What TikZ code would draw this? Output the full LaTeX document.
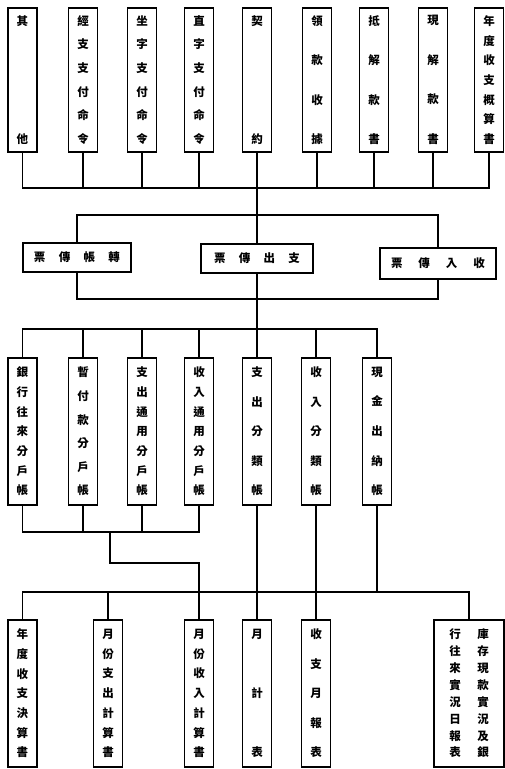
\documentclass[tikz,border=0pt]{standalone}
\usepackage{fontspec}
\newfontfamily\cjk{Noto Sans CJK TC}
\newcommand\V{\par\vfill}
\newcommand\vs[1]{\parbox[c][128pt][s]{14pt}{\centering #1}}
\tikzset{
  vbox/.style={draw, line width=1.3pt, minimum width=29pt, minimum height=144pt, inner sep=0pt, font=\cjk\bfseries\fontsize{11.5}{12}\selectfont},
  hbox/.style={draw, line width=1.3pt, minimum height=29pt, inner sep=0pt, font=\cjk\bfseries\fontsize{11.5}{12}\selectfont},
  ln/.style={line width=1.1pt}
}
\begin{document}
\begin{tikzpicture}[x=1pt,y=-1pt]
\useasboundingbox[fill=white] (0,0) rectangle (505,769);
% top row
\node[vbox] (t1) at (22.5,80) {\vs{其\V 他}};
\node[vbox] (t2) at (83,80) {\vs{經\V 支\V 支\V 付\V 命\V 令}};
\node[vbox] (t3) at (142,80) {\vs{坐\V 字\V 支\V 付\V 命\V 令}};
\node[vbox] (t4) at (199,80) {\vs{直\V 字\V 支\V 付\V 命\V 令}};
\node[vbox] (t5) at (257,80) {\vs{契\V 約}};
\node[vbox] (t6) at (317,80) {\vs{領\V 款\V 收\V 據}};
\node[vbox] (t7) at (374,80) {\vs{抵\V 解\V 款\V 書}};
\node[vbox] (t8) at (433,80) {\vs{現\V 解\V 款\V 書}};
\node[vbox] (t9) at (489,80) {\vs{年\V 度\V 收\V 支\V 概\V 算\V 書}};
% middle row
\node[hbox, minimum width=108pt] (mA) at (77,257.5) {\makebox[86pt][s]{票\hfill 傳\hfill 帳\hfill 轉}};
\node[hbox, minimum width=112pt] (mB) at (257,258.5) {\makebox[86pt][s]{票\hfill 傳\hfill 出\hfill 支}};
\node[hbox, minimum width=116pt, minimum height=31pt] (mC) at (438,263.5) {\makebox[94pt][s]{票\hfill 傳\hfill 入\hfill 收}};
% third row
\node[vbox, minimum height=147pt] (c1) at (22.5,431.5) {\vs{銀\V 行\V 往\V 來\V 分\V 戶\V 帳}};
\node[vbox, minimum height=147pt] (c2) at (83,431.5) {\vs{暫\V 付\V 款\V 分\V 戶\V 帳}};
\node[vbox, minimum height=147pt] (c3) at (142,431.5) {\vs{支\V 出\V 通\V 用\V 分\V 戶\V 帳}};
\node[vbox, minimum height=147pt] (c4) at (199,431.5) {\vs{收\V 入\V 通\V 用\V 分\V 戶\V 帳}};
\node[vbox, minimum height=147pt] (c5) at (257,431.5) {\vs{支\V 出\V 分\V 類\V 帳}};
\node[vbox, minimum height=147pt] (c6) at (316,431.5) {\vs{收\V 入\V 分\V 類\V 帳}};
\node[vbox, minimum height=147pt] (c7) at (377,431.5) {\vs{現\V 金\V 出\V 納\V 帳}};
% bottom row
\node[vbox, minimum height=147pt] (d1) at (22.5,693.5) {\vs{年\V 度\V 收\V 支\V 決\V 算\V 書}};
\node[vbox, minimum height=147pt] (d2) at (108,693.5) {\vs{月\V 份\V 支\V 出\V 計\V 算\V 書}};
\node[vbox, minimum height=147pt] (d3) at (199,693.5) {\vs{月\V 份\V 收\V 入\V 計\V 算\V 書}};
\node[vbox, minimum height=147pt] (d4) at (257,693.5) {\vs{月\V 計\V 表}};
\node[vbox, minimum height=147pt] (d5) at (316,693.5) {\vs{收\V 支\V 月\V 報\V 表}};
\node[vbox, minimum height=147pt, minimum width=70pt] (d6) at (469,693.5)
  {\vs{行\V 往\V 來\V 實\V 況\V 日\V 報\V 表}\hspace{14pt}\vs{庫\V 存\V 現\V 款\V 實\V 況\V 及\V 銀}};
% connectors
\coordinate (bus1) at (257,188);
\coordinate (bus2) at (257,215);
\coordinate (bus3) at (257,299);
\coordinate (bus4) at (257,329);
\coordinate (bus5) at (110,532);
\coordinate (knee) at (110,563);
\coordinate (bus6) at (257,592);
\draw[ln] (t1.south) |- (bus1) -| (t9.south);
\foreach \n in {2,...,8} \draw[ln] (t\n.south) -- (t\n.south |- bus1);
\draw[ln] (bus1) -- (mB.north);
\draw[ln] (mA.north) |- (bus2) -| (mC.north);
\draw[ln] (mA.south) |- (bus3) -| (mC.south);
\draw[ln] (mB.south) -- (bus4);
\draw[ln] (c1.north) |- (bus4) -| (c7.north);
\foreach \n in {2,...,6} \draw[ln] (c\n.north) -- (c\n.north |- bus4);
\draw[ln] (c1.south) |- (bus5) -| (c4.south);
\foreach \n in {2,3} \draw[ln] (c\n.south) -- (c\n.south |- bus5);
\draw[ln] (bus5) -- (knee) -| (d3.north);
\draw[ln] (c5.south) -- (d4.north);
\draw[ln] (c6.south) -- (d5.north);
\draw[ln] (c7.south) -- (c7.south |- bus6);
\draw[ln] (d1.north) |- (bus6) -| (d6.north);
\draw[ln] (d2.north) -- (d2.north |- bus6);
\end{tikzpicture}
\end{document}
